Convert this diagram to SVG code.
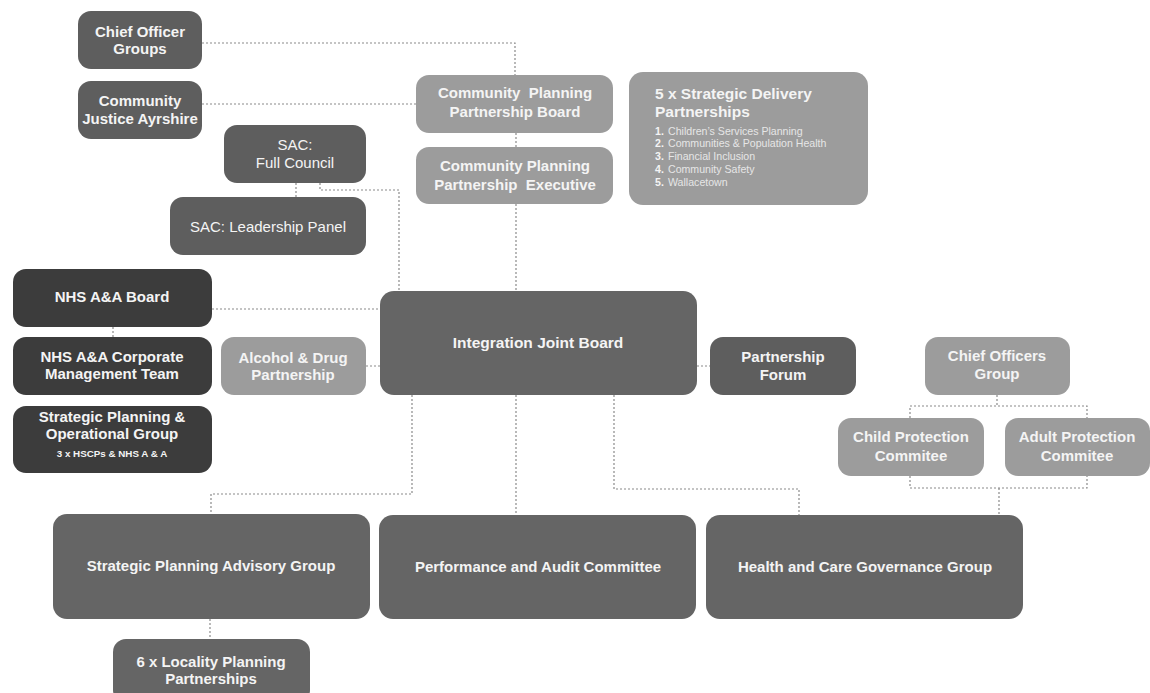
<svg xmlns="http://www.w3.org/2000/svg" width="1150" height="693" viewBox="0 0 1150 693">
<style>
.dark{fill:#3c3c3c}
.mid{fill:#656565}
.mid2{fill:#5e5e5e}
.light{fill:#9c9c9c}
text{font-family:"Liberation Sans","Arial",sans-serif;fill:#f4f4f4;text-anchor:middle}
.b{font-weight:700;font-size:15px}
.r{font-weight:400;font-size:15px}
.big{font-weight:700;font-size:15.5px}
.sm{font-weight:700;font-size:9.8px}
.li{font-weight:400;font-size:10.6px;fill:#e6e6e6;text-anchor:start}
.ln{font-weight:700;font-size:10.6px;fill:#f4f4f4;text-anchor:start}
.con path{fill:none;stroke:#8a8a8a;stroke-width:1.2;stroke-dasharray:2 2}
</style>
<rect width="1150" height="693" fill="#ffffff"/>
<g class="con" id="connectors">
<path d="M202,43 H515 V75"/>
<path d="M202,104 H416"/>
<path d="M516,133 V147"/>
<path d="M516,204 V291"/>
<path d="M296,183 V197"/>
<path d="M320,183 V190 H399 V291"/>
<path d="M212,309 H380"/>
<path d="M113,327 V337"/>
<path d="M366,366 H380"/>
<path d="M697,366 H710"/>
<path d="M412,395 V494 H211 V514"/>
<path d="M516,395 V515"/>
<path d="M614,395 V489 H799 V515"/>
<path d="M997,395 V406"/>
<path d="M910,418 V406 H1087 V418"/>
<path d="M910,476 V488 H1087 V476"/>
<path d="M999,488 V515"/>
<path d="M210,619 V639"/>
</g>
<g id="chief-officer-groups"><rect class="mid2" x="78" y="11" width="124" height="58" rx="13"/><text class="b" x="140" y="37">Chief Officer</text><text class="b" x="140" y="54">Groups</text></g>
<g id="community-justice"><rect class="mid2" x="78" y="81" width="124" height="58" rx="13"/><text class="b" x="140" y="106">Community</text><text class="b" x="140" y="124">Justice Ayrshire</text></g>
<g id="sac-full-council"><rect class="mid2" x="224" y="125" width="142" height="58" rx="13"/><text class="r" x="295" y="150">SAC:</text><text class="r" x="295" y="168">Full Council</text></g>
<g id="sac-leadership"><rect class="mid2" x="170" y="197" width="196" height="58" rx="13"/><text class="r" x="268" y="232">SAC: Leadership Panel</text></g>
<g id="cpp-board"><rect class="light" x="416" y="75" width="197" height="58" rx="13"/><text class="b" x="515" y="98" xml:space="preserve">Community  Planning</text><text class="b" x="515" y="117">Partnership Board</text></g>
<g id="cpp-exec"><rect class="light" x="416" y="147" width="197" height="57" rx="13"/><text class="b" x="515" y="171">Community Planning</text><text class="b" x="515" y="190" xml:space="preserve">Partnership  Executive</text></g>
<g id="strategic-delivery"><rect class="light" x="629" y="72" width="239" height="133" rx="14"/>
<text class="big" x="655" y="99" style="text-anchor:start">5 x Strategic Delivery</text>
<text class="big" x="655" y="117" style="text-anchor:start">Partnerships</text>
<text class="ln" x="655" y="135">1.</text><text class="li" x="668" y="135">Children’s Services Planning</text>
<text class="ln" x="655" y="147">2.</text><text class="li" x="668" y="147">Communities &amp; Population Health</text>
<text class="ln" x="655" y="160">3.</text><text class="li" x="668" y="160">Financial Inclusion</text>
<text class="ln" x="655" y="173">4.</text><text class="li" x="668" y="173">Community Safety</text>
<text class="ln" x="655" y="186">5.</text><text class="li" x="668" y="186">Wallacetown</text>
</g>
<g id="nhs-board"><rect class="dark" x="13" y="269" width="199" height="58" rx="13"/><text class="b" x="112" y="302">NHS A&amp;A Board</text></g>
<g id="nhs-cmt"><rect class="dark" x="13" y="337" width="199" height="58" rx="13"/><text class="b" x="112" y="362">NHS A&amp;A Corporate</text><text class="b" x="112" y="379">Management Team</text></g>
<g id="spog"><rect class="dark" x="13" y="406" width="199" height="67" rx="13"/><text class="b" x="112" y="422">Strategic Planning &amp;</text><text class="b" x="112" y="439">Operational Group</text><text class="sm" x="112" y="457">3 x HSCPs &amp; NHS A &amp; A</text></g>
<g id="adp"><rect class="light" x="221" y="337" width="145" height="58" rx="13"/><text class="b" x="293" y="363">Alcohol &amp; Drug</text><text class="b" x="293" y="380">Partnership</text></g>
<g id="ijb"><rect class="mid" x="380" y="291" width="317" height="104" rx="14"/><text class="big" x="538" y="348">Integration Joint Board</text></g>
<g id="partnership-forum"><rect class="mid2" x="710" y="337" width="146" height="58" rx="13"/><text class="b" x="783" y="362">Partnership</text><text class="b" x="783" y="380">Forum</text></g>
<g id="chief-officers-group"><rect class="light" x="925" y="337" width="145" height="58" rx="13"/><text class="b" x="997" y="361">Chief Officers</text><text class="b" x="997" y="379">Group</text></g>
<g id="child-protection"><rect class="light" x="838" y="418" width="146" height="58" rx="13"/><text class="b" x="911" y="442">Child Protection</text><text class="b" x="911" y="461">Commitee</text></g>
<g id="adult-protection"><rect class="light" x="1005" y="418" width="145" height="58" rx="13"/><text class="b" x="1077" y="442">Adult Protection</text><text class="b" x="1077" y="461">Commitee</text></g>
<g id="spag"><rect class="mid" x="53" y="514" width="317" height="105" rx="14"/><text class="b" x="211" y="571">Strategic Planning Advisory Group</text></g>
<g id="pac"><rect class="mid" x="379" y="515" width="317" height="104" rx="14"/><text class="b" x="538" y="572">Performance and Audit Committee</text></g>
<g id="hcg"><rect class="mid" x="706" y="515" width="317" height="104" rx="14"/><text class="b" x="865" y="572">Health and Care Governance Group</text></g>
<g id="locality"><rect class="mid" x="113" y="639" width="197" height="64" rx="13"/><text class="b" x="211" y="667">6 x Locality Planning</text><text class="b" x="211" y="684">Partnerships</text></g>
</svg>
